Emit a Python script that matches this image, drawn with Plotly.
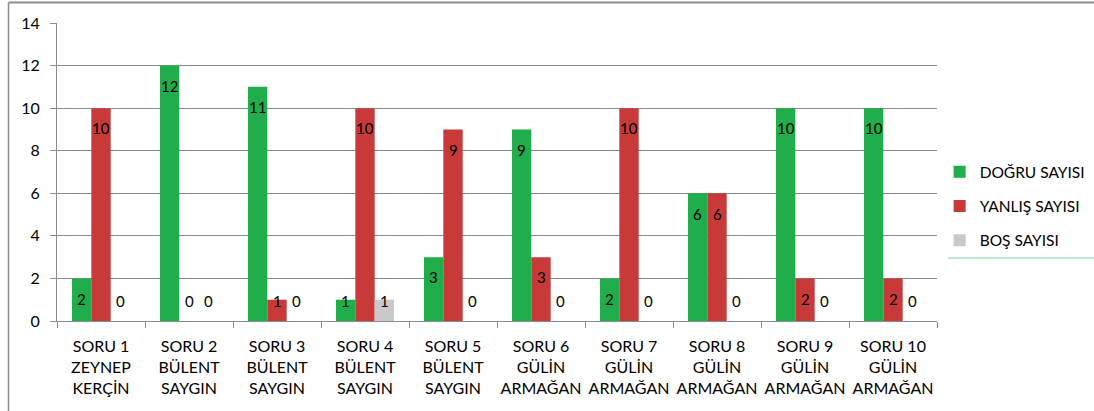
import plotly.graph_objects as go

categories = [
    "SORU 1<br>ZEYNEP<br>KERÇİN",
    "SORU 2<br>BÜLENT<br>SAYGIN",
    "SORU 3<br>BÜLENT<br>SAYGIN",
    "SORU 4<br>BÜLENT<br>SAYGIN",
    "SORU 5<br>BÜLENT<br>SAYGIN",
    "SORU 6<br>GÜLİN<br>ARMAĞAN",
    "SORU 7<br>GÜLİN<br>ARMAĞAN",
    "SORU 8<br>GÜLİN<br>ARMAĞAN",
    "SORU 9<br>GÜLİN<br>ARMAĞAN",
    "SORU 10<br>GÜLİN<br>ARMAĞAN",
]
dogru = [2, 12, 11, 1, 3, 9, 2, 6, 10, 10]
yanlis = [10, 0, 1, 10, 9, 3, 10, 6, 2, 2]
bos = [0, 0, 0, 1, 0, 0, 0, 0, 0, 0]
series_names = ["DOĞRU SAYISI", "YANLIŞ SAYISI", "BOŞ SAYISI"]
series_values = [dogru, yanlis, bos]
colors = ["#20AD4B", "#C83A3A", "#C9C9C9"]

W, H = 1094, 411
ML, MR, MT, MB = 57, 157, 23, 90
bargap = 0.34
font = "Lato, 'Open Sans', sans-serif"

fig = go.Figure()
for k, (name, vals) in enumerate(zip(series_names, series_values)):
    fig.add_trace(go.Bar(
        x=categories, y=vals, name=name,
        marker=dict(color=colors[k], line=dict(width=0)),
        legendgroup=name, hoverinfo="skip",
    ))

plot_w = W - ML - MR
cat_px = plot_w / len(categories)
bar_px = cat_px * (1 - bargap) / 3

annotations = []
for k, vals in enumerate(series_values):
    for i, v in enumerate(vals):
        annotations.append(dict(
            x=categories[i], y=max(v, 1.9) - 0.95, xref="x", yref="y",
            text=str(v), showarrow=False, xshift=(k - 1) * bar_px,
            font=dict(family=font, size=15, color="#000000"),
            yanchor="middle", xanchor="center",
        ))

ph = H - MT - MB
def px_x(p):
    return (p - ML) / plot_w
def px_y(p):
    return (H - MB - p) / ph

shapes = [
    dict(type="line", xref="paper", yref="paper",
         x0=px_x(8.5), x1=px_x(8.5), y0=px_y(2.5), y1=px_y(H + 5),
         line=dict(color="#8c8c8c", width=1.5), layer="below"),
    dict(type="line", xref="paper", yref="paper",
         x0=px_x(8.5), x1=px_x(W + 5), y0=px_y(2.5), y1=px_y(2.5),
         line=dict(color="#8c8c8c", width=2), layer="below"),
    dict(type="line", xref="paper", yref="paper",
         x0=px_x(948), x1=px_x(W + 5), y0=px_y(258), y1=px_y(258),
         line=dict(color="#bfe8cf", width=2)),
]

fig.update_layout(
    width=W, height=H,
    margin=dict(l=ML, r=MR, t=MT, b=MB, autoexpand=False),
    paper_bgcolor="#ffffff", plot_bgcolor="#ffffff",
    barmode="group", bargap=bargap, bargroupgap=0,
    font=dict(family=font, size=14, color="#000000"),
    showlegend=True,
    legend=dict(x=1.003, y=0.385, xanchor="left", yanchor="middle",
                font=dict(family=font, size=15.5, color="#000000"),
                tracegroupgap=11, bgcolor="rgba(0,0,0,0)"),
    annotations=annotations, shapes=shapes,
)
fig.update_xaxes(
    type="category", tickson="boundaries", ticks="outside", ticklen=6,
    tickcolor="#8c8c8c", showgrid=False, showline=True, linecolor="#8c8c8c",
    linewidth=1, tickfont=dict(family=font, size=16), fixedrange=True,
    automargin=False, tickangle=0, ticklabelstandoff=11,
)
fig.update_yaxes(
    range=[0, 14], dtick=2, ticks="outside", ticklen=6, tickcolor="#8c8c8c",
    showgrid=True, gridcolor="#8c8c8c", gridwidth=1, showline=True,
    linecolor="#8c8c8c", linewidth=1, zeroline=False,
    tickfont=dict(family=font, size=16), fixedrange=True, automargin=False,
    ticklabelstandoff=7,
)
fig.write_html("out.html", config={"displayModeBar": False},
               post_script="document.body.style.margin='0';")
